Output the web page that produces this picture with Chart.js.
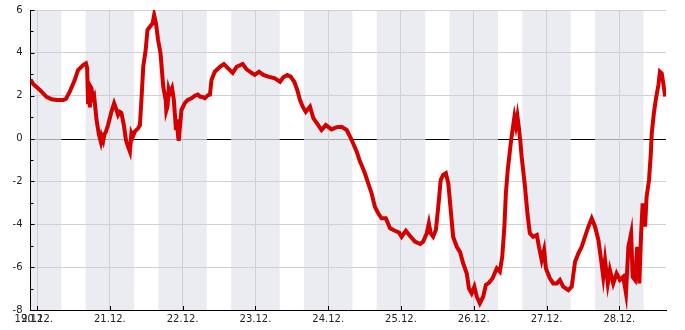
<!DOCTYPE html>
<html>
<head>
<meta charset="utf-8">
<script src="https://cdn.jsdelivr.net/npm/chart.js@4"></script>
<style>
    html, body { margin: 0; padding: 0; background: #fff; }
    #wrap { width: 685px; height: 330px; }
</style>
</head>
<body>
<div id="wrap"><canvas id="chart"></canvas></div>
<script>
// Hours since 20.12. 00:00
const hours = [
    -2.2, -1.3, 0.9, 3.1, 4.8, 6.5, 8.6, 9.5, 10.8, 12.4, 13.5, 15.2, 16.1, 16.5, 16.8, 17.1, 17.4, 17.7, 17.9, 18.4,
    18.8, 19.6, 20.4, 21.0, 21.3, 21.8, 22.2, 22.7, 23.4, 24.5, 25.4, 26.2, 26.7, 27.3, 27.8, 28.6, 29.3, 30.0, 30.6, 31.1,
    31.6, 32.2, 33.3, 33.9, 34.4, 35.0, 35.8, 36.4, 37.2, 38.1, 38.6, 39.2, 39.9, 40.7, 41.6, 42.4, 42.6, 43.0, 43.4, 43.8,
    44.5, 45.1, 45.8, 46.1, 46.5, 46.7, 47.1, 47.6, 48.7, 49.7, 50.9, 52.0, 53.0, 53.7, 54.8, 55.3, 56.4, 57.0, 57.5, 58.6,
    60.3, 61.6, 63.0, 64.5, 65.8, 67.8, 69.1, 70.7, 71.8, 73.2, 74.6, 76.2, 78.4, 80.1, 81.2, 82.5, 83.6, 84.8, 85.8, 86.7,
    87.6, 88.6, 90.0, 91.1, 92.7, 93.8, 95.2, 97.1, 98.8, 100.4, 102.1, 103.2, 104.2, 105.4, 106.5, 107.0, 108.1, 109.2, 110.3, 111.4,
    112.5, 113.6, 115.0, 116.4, 118.0, 119.4, 120.2, 121.6, 123.0, 124.6, 126.3, 127.3, 128.5, 129.2, 129.8, 130.6, 131.5, 132.3, 133.1, 133.9,
    134.8, 135.6, 136.4, 137.2, 138.4, 139.5, 140.5, 141.7, 142.4, 143.3, 144.2, 145.0, 146.0, 147.1, 148.0, 149.1, 150.2, 151.6, 152.6, 153.4,
    154.1, 154.6, 155.2, 155.7, 156.3, 156.9, 157.4, 157.9, 158.4, 158.9, 159.4, 159.8, 160.9, 161.7, 162.5, 163.6, 164.8, 165.5, 166.4, 167.2,
    167.8, 169.1, 170.2, 171.4, 172.4, 173.5, 175.2, 176.3, 177.4, 178.5, 179.6, 180.7, 181.8, 182.9, 184.0, 185.1, 186.0, 186.7, 187.3, 188.2,
    188.9, 190.0, 191.1, 192.2, 193.3, 194.2, 195.0, 195.9, 196.4, 197.2, 197.9, 198.6, 199.2, 199.7, 200.5, 201.0, 201.8, 202.4, 202.7, 203.4,
    204.1, 204.9, 205.4, 206.0, 206.5, 207.1
];

const temps = [
    2.75, 2.55, 2.27, 1.95, 1.83, 1.8, 1.8, 1.85, 2.2, 2.73, 3.2, 3.43, 3.51, 3.3, 1.7, 2.3, 1.45, 2.4, 2.35, 1.9,
    2.0, 0.87, 0.17, -0.15, 0.1, -0.1, 0.2, 0.32, 0.63, 1.25, 1.65, 1.33, 1.1, 1.25, 1.2, 0.63, -0.07, -0.38, -0.61, 0.25,
    0.1, 0.32, 0.48, 0.63, 1.8, 3.35, 4.13, 5.07, 5.22, 5.38, 5.77, 5.38, 4.6, 3.98, 2.42, 1.8, 1.3, 1.49, 2.3, 2.11,
    2.35, 1.8, 0.4, 0.9, 0.09, -0.1, 0.55, 1.33, 1.65, 1.8, 1.88, 2.0, 2.05, 1.96, 1.93, 1.88, 2.03, 2.05, 2.73, 3.12,
    3.35, 3.48, 3.28, 3.07, 3.35, 3.48, 3.23, 3.07, 2.97, 3.12, 2.97, 2.89, 2.81, 2.65, 2.86, 2.97, 2.89, 2.65, 2.27, 1.8,
    1.49, 1.25, 1.49, 0.95, 0.63, 0.4, 0.63, 0.43, 0.53, 0.55, 0.4, 0.09, -0.22, -0.61, -1.08, -1.23, -1.62, -2.09, -2.55, -3.18,
    -3.49, -3.72, -3.72, -4.19, -4.3, -4.39, -4.58, -4.3, -4.55, -4.81, -4.92, -4.81, -4.42, -3.95, -4.42, -4.58, -4.27, -3.18, -1.93, -1.7,
    -1.62, -2.09, -3.33, -4.58, -5.05, -5.3, -5.82, -6.3, -6.99, -7.22, -6.91, -7.38, -7.69, -7.38, -6.83, -6.72, -6.52, -6.06, -6.21, -5.51,
    -4.11, -2.55, -1.47, -0.85, -0.1, 0.5, 1.0, 0.6, 1.05, 0.5, -0.2, -0.85, -2.25, -3.49, -4.42, -4.58, -4.5, -5.05, -5.67, -5.2,
    -6.06, -6.52, -6.76, -6.76, -6.6, -6.91, -7.07, -6.91, -5.75, -5.36, -5.05, -4.58, -4.11, -3.72, -4.11, -4.73, -5.67, -6.45, -5.67, -6.76,
    -6.13, -6.76, -6.29, -6.6, -6.45, -7.22, -5.05, -4.42, -6.45, -6.6, -5.05, -6.76, -4.42, -3.02, -4.11, -2.71, -1.93, -0.69, 0.25, 1.18,
    1.88, 2.5, 3.12, 3.04, 2.58, 1.96
];

// Axis labels
const startLabel = '19.12.';
const dayLabels = ['20.12.', '21.12.', '22.12.', '23.12.', '24.12.', '25.12.', '26.12.', '27.12.', '28.12.'];

// Night periods (hours), shaded
const nightFrom = [-8, 16, 40, 64, 88, 112, 136, 160, 184];
const nightTo = [8, 32, 56, 80, 104, 128, 152, 176, 200];

const xMin = -2.18;
const xMax = 207.4;

Chart.defaults.font.family = '"DejaVu Sans", sans-serif';
Chart.defaults.font.size = 10;
Chart.defaults.color = '#222';

// Background, zero line and night bands (drawn under the grid)
const backdrop = {
    id: 'backdrop',
    beforeDraw(chart) {
        const { ctx, chartArea: area, scales: { x, y } } = chart;

        ctx.save();
        ctx.fillStyle = '#fff';
        ctx.fillRect(0, 0, chart.width, chart.height);

        const y0 = Math.round(y.getPixelForValue(0)) + 0.5;
        ctx.strokeStyle = '#000';
        ctx.lineWidth = 1;
        ctx.beginPath();
        ctx.moveTo(area.left, y0);
        ctx.lineTo(area.right, y0);
        ctx.stroke();

        ctx.fillStyle = 'rgba(226,228,236,0.72)';
        nightFrom.forEach((from, i) => {
            const left = Math.max(area.left, x.getPixelForValue(from));
            const right = Math.min(area.right, x.getPixelForValue(nightTo[i]));
            if (right > left) {
                ctx.fillRect(left, area.top, right - left, area.bottom - area.top);
            }
        });
        ctx.restore();
    }
};

// Tick marks pointing into the plot, with minor ticks on y
const innerTicks = {
    id: 'innerTicks',
    afterDatasetsDraw(chart) {
        const { ctx, chartArea: area, scales: { x, y } } = chart;

        ctx.save();
        ctx.strokeStyle = '#000';
        ctx.lineWidth = 1;
        ctx.beginPath();

        for (let v = -8; v <= 6; v++) {
            const py = Math.round(y.getPixelForValue(v)) + 0.5;
            const len = v % 2 === 0 ? 4 : 3;
            ctx.moveTo(area.left, py);
            ctx.lineTo(area.left + len, py);
        }

        dayLabels.forEach((label, i) => {
            const px = Math.round(x.getPixelForValue(i * 24)) + 0.5;
            ctx.moveTo(px, area.bottom);
            ctx.lineTo(px, area.bottom - 4);
        });

        ctx.stroke();
        ctx.restore();
    }
};

new Chart(document.getElementById('chart'), {
    type: 'line',
    data: {
        datasets: [{
            data: hours.map((h, i) => ({ x: h, y: temps[i] })),
            borderColor: '#d40000',
            borderWidth: 4,
            pointRadius: 0,
            tension: 0,
            fill: false
        }]
    },
    options: {
        responsive: true,
        maintainAspectRatio: false,
        animation: false,
        events: [],
        layout: {
            padding: { top: 10, right: 19, bottom: 0, left: 0 }
        },
        plugins: {
            legend: { display: false },
            tooltip: { enabled: false }
        },
        scales: {
            x: {
                type: 'linear',
                min: xMin,
                max: xMax,
                bounds: 'data',
                afterBuildTicks: axis => {
                    axis.ticks = [xMin, ...dayLabels.map((l, i) => i * 24)].map(value => ({ value }));
                },
                afterFit: axis => {
                    axis.height = 20;
                    axis.paddingLeft = 0;
                    axis.paddingRight = 0;
                },
                grid: {
                    color: '#d0d0d4',
                    drawTicks: false
                },
                border: { color: '#000' },
                ticks: {
                    autoSkip: false,
                    maxRotation: 0,
                    minRotation: 0,
                    padding: 3,
                    callback: value => value === xMin ? startLabel : dayLabels[Math.round(value / 24)]
                }
            },
            y: {
                min: -8,
                max: 6,
                afterFit: axis => {
                    axis.width = 30.5;
                    axis.paddingTop = 0;
                    axis.paddingBottom = 0;
                },
                grid: {
                    color: context => context.tick && context.tick.value === 0 ? 'rgba(0,0,0,0)' : '#d0d0d4',
                    drawTicks: false
                },
                border: { color: '#000' },
                ticks: {
                    stepSize: 2,
                    padding: 8
                }
            }
        }
    },
    plugins: [backdrop, innerTicks]
});
</script>
</body>
</html>
